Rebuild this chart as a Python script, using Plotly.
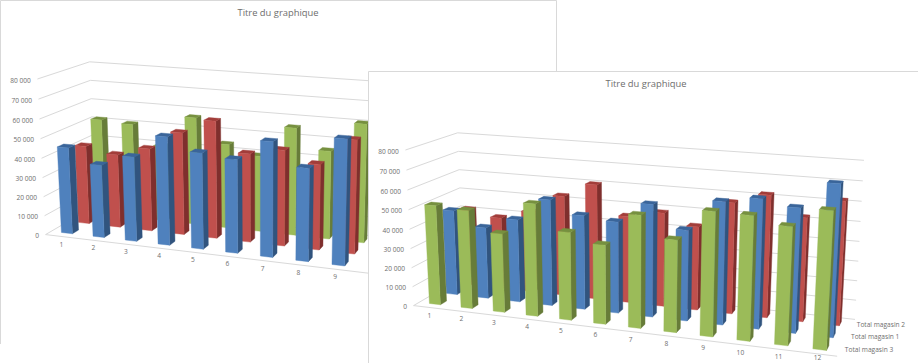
import numpy as np
import plotly.graph_objects as go

categories = ["1", "2", "3", "4", "5", "6", "7", "8", "9", "10", "11", "12"]
magasin_1 = [45000, 37600, 43400, 55100, 48600, 46900, 57200, 45900, 61500, 64300, 61400, 74200]
magasin_2 = [41600, 38600, 43300, 53100, 60500, 45400, 48800, 43300, 57000, 62200, 52500, 62200]
magasin_3 = [51700, 50700, 40400, 57000, 44400, 39800, 56000, 45600, 60800, 60400, 56800, 65700]
series_names = {"m1": "Total magasin 1", "m2": "Total magasin 2", "m3": "Total magasin 3"}
z_ticks = [0, 10000, 20000, 30000, 40000, 50000, 60000, 70000, 80000]
z_labels = ["0", "10 000", "20 000", "30 000", "40 000", "50 000", "60 000", "70 000", "80 000"]
title_text = "Titre du graphique"

Z_MAX = 80000.0
W, H = 918, 363
BLUE = ("#4F81BD", "#3A659A", "#31547E")
RED = ("#C0504D", "#A23D3A", "#7F2F2D")
GREEN = ("#9BBB59", "#76903F", "#677C39")
GRID = "#D9D9D9"
TXT = "#6E6E6E"
FONT = "Open Sans"

# Perspective camera calibrated from the axis box corners: (u, v, w) -> page pixel
world = np.array([[0, 0, 0], [0, 1, 0], [1, 1, 0], [1, 0, 0], [0, 0, 1], [0, 1, 1], [1, 1, 1], [.5, 0, 0]], float)
image = np.array([[413, 305], [463, 276], [855, 320], [836, 357], [405, 150], [458, 134], [864, 159], [615, 329.3]], float)
C0, S0 = np.array([640., 220.]), 300.
rows = []
for (X, Y, Z), p in zip(world, (image - C0) / S0):
    rows.append([X, Y, Z, 1, 0, 0, 0, 0, -p[0]*X, -p[0]*Y, -p[0]*Z, -p[0]])
    rows.append([0, 0, 0, 0, X, Y, Z, 1, -p[1]*X, -p[1]*Y, -p[1]*Z, -p[1]])
CAM = np.linalg.svd(np.array(rows))[2][-1].reshape(3, 4)


def proj(u, v, w, off):
    h = CAM @ np.array([u, v, w, 1.0])
    return (h[0]/h[2]*S0 + C0[0] - off[0], h[1]/h[2]*S0 + C0[1] - off[1])


BAR_W = 0.35 / 12
BAR_D = 0.12
n = len(categories)
fig = go.Figure()


def poly(pts):
    xs = [p[0] for p in pts] + [pts[0][0], None]
    ys = [p[1] for p in pts] + [pts[0][1], None]
    return xs, ys


def add_fill(xs, ys, color, name):
    fig.add_trace(go.Scatter(x=xs, y=ys, mode="lines", fill="toself", fillcolor=color,
                             line=dict(color=color, width=0.4), name=name, hoverinfo="skip"))


def add_text(xs, ys, txt, pos, size=6.6):
    fig.add_trace(go.Scatter(x=xs, y=ys, text=txt, mode="text", textposition=pos,
                             textfont=dict(family=FONT, size=size, color=TXT), hoverinfo="skip"))


def panel(off, order):
    # walls
    xs, ys = [], []
    for t in z_ticks:
        w = t / Z_MAX
        for a in [proj(0, 0, w, off), proj(0, 1, w, off), proj(1, 1, w, off)]:
            xs.append(a[0]); ys.append(a[1])
        xs.append(None); ys.append(None)
    for a in [proj(0, 0, 0, off), proj(1, 0, 0, off)]:
        xs.append(a[0]); ys.append(a[1])
    fig.add_trace(go.Scatter(x=xs, y=ys, mode="lines", line=dict(color=GRID, width=1), hoverinfo="skip"))

    # bars: rows from back to front
    for row, (vals, cols, key) in enumerate(order):
        vc = (2 - row + 0.5) / 3
        v0, v1 = vc - BAR_D / 2, vc + BAR_D / 2
        fx, fy, tx, ty, sx, sy = [], [], [], [], [], []
        for i, val in enumerate(vals):
            uc = (i + 0.5) / n
            u0, u1 = uc - BAR_W / 2, uc + BAR_W / 2
            w = val / Z_MAX
            a, b = poly([proj(u0, v0, 0, off), proj(u1, v0, 0, off), proj(u1, v0, w, off), proj(u0, v0, w, off)])
            fx += a; fy += b
            a, b = poly([proj(u0, v0, w, off), proj(u1, v0, w, off), proj(u1, v1, w, off), proj(u0, v1, w, off)])
            tx += a; ty += b
            a, b = poly([proj(u1, v0, 0, off), proj(u1, v1, 0, off), proj(u1, v1, w, off), proj(u1, v0, w, off)])
            sx += a; sy += b
        add_fill(sx, sy, cols[2], series_names[key])
        add_fill(tx, ty, cols[1], series_names[key])
        add_fill(fx, fy, cols[0], series_names[key])

    # labels
    pts = [proj(0, 0, t / Z_MAX, off) for t in z_ticks]
    add_text([p[0] - 6.5 for p in pts], [p[1] + 2 for p in pts], z_labels, "middle left")
    pts = [proj((i + 0.5) / n, 0, 0, off) for i in range(n)]
    add_text([p[0] for p in pts], [min(p[1] + 8.5, 358) for p in pts], categories, "middle center")
    names = [series_names[o[2]] for o in order]
    pts = [proj(1, (2 - r + 0.5) / 3, 0, off) for r in range(3)]
    add_text([p[0] + 4.5 for p in pts], [p[1] + 0.5 for p in pts], names, "middle right")
    add_text([off[2]], [off[3] + 1], [title_text], "middle center", size=9.4)


# panel 1
panel((368, 71, 278, 12.5), [(magasin_3, GREEN, "m3"), (magasin_2, RED, "m2"), (magasin_1, BLUE, "m1")])
fig.add_trace(go.Scatter(x=[0.5, 0.5, 556.5, 556.5], y=[344, 0.5, 0.5, 72], mode="lines",
                         line=dict(color=GRID, width=1), hoverinfo="skip"))
# panel 2 sheet on top of panel 1
fig.add_trace(go.Scatter(x=[368.5, 368.5, 940, 940, 368.5], y=[430, 71.5, 71.5, 430, 430], mode="lines",
                         fill="toself", fillcolor="white", line=dict(color=GRID, width=1), hoverinfo="skip"))
panel((0, 0, 646, 83.5), [(magasin_2, RED, "m2"), (magasin_1, BLUE, "m1"), (magasin_3, GREEN, "m3")])

fig.update_layout(width=W, height=H, margin=dict(l=0, r=0, t=0, b=0), paper_bgcolor="white",
                  plot_bgcolor="white", showlegend=False,
                  xaxis=dict(range=[0, W], visible=False, fixedrange=True),
                  yaxis=dict(range=[H, 0], visible=False, fixedrange=True))
fig.write_html("out.html", config={"displayModeBar": False},
               post_script="document.body.style.margin='0';document.body.style.overflow='hidden';")
